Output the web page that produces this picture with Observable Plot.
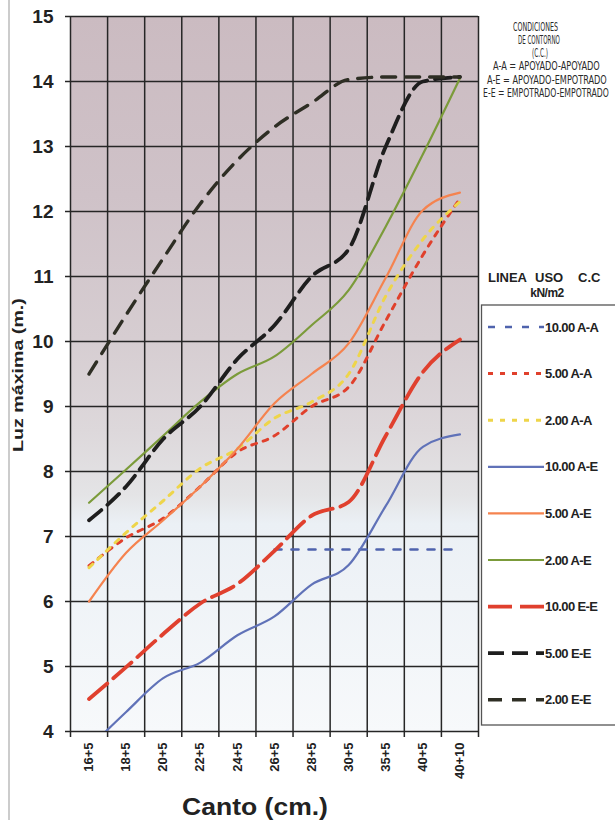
<!DOCTYPE html>
<html><head><meta charset="utf-8">
<script src="https://cdn.jsdelivr.net/npm/d3@7"></script>
<script src="https://cdn.jsdelivr.net/npm/@observablehq/plot@0.6"></script>
<style>
body{margin:0;background:#fff;}
#chart{position:relative;width:615px;height:820px;overflow:hidden;}
</style>
</head><body><div id="chart"></div>
<script>
// Categories (canto, cm)
const cantos = ["16+5","18+5","20+5","22+5","24+5","26+5","28+5","30+5","35+5","40+5","40+10"];
const yTicks = [4,5,6,7,8,9,10,11,12,13,14,15];

// Luz máxima (m.) per canto
const uso10AA = [null,null,null,null,null,6.8,6.8,6.8,6.8,6.8,6.8];
const uso5AA  = [6.55,6.98,7.28,7.77,8.3,8.55,9.0,9.3,10.32,11.33,12.2];
const uso2AA  = [6.52,7.06,7.55,8.05,8.35,8.82,9.07,9.5,10.7,11.57,12.15];
const uso10AE = [3.75,4.3,4.82,5.06,5.48,5.77,6.26,6.56,7.47,8.38,8.57];
const uso5AE  = [6.0,6.75,7.25,7.77,8.35,9.05,9.5,9.97,10.98,12.02,12.29];
const uso2AE  = [7.52,8.03,8.55,9.07,9.5,9.77,10.25,10.79,11.77,12.88,14.05];
const uso10EE = [4.5,4.99,5.5,5.97,6.27,6.78,7.32,7.53,8.55,9.53,10.03];
const uso5EE  = [7.25,7.77,8.5,9.0,9.73,10.25,11.0,11.42,13.0,14.0,14.07];
const uso2EE  = [9.5,10.41,11.28,12.12,12.79,13.3,13.67,14.03,14.07,14.07,14.07];

const seriesNames = ["10.00 A-A","5.00 A-A","2.00 A-A","10.00 A-E","5.00 A-E","2.00 A-E","10.00 E-E","5.00 E-E","2.00 E-E"];
const seriesValues = [uso10AA,uso5AA,uso2AA,uso10AE,uso5AE,uso2AE,uso10EE,uso5EE,uso2EE];

const styles = {
  "10.00 A-A": {color:"#4f63ad", dash:"7,10", width:2.6},
  "5.00 A-A":  {color:"#e0402c", dash:"5,7", width:3},
  "2.00 A-A":  {color:"#eed54a", dash:"5,7", width:3},
  "10.00 A-E": {color:"#6072b8", dash:null, width:2.2},
  "5.00 A-E":  {color:"#f5834f", dash:null, width:2.2},
  "2.00 A-E":  {color:"#7b9b3a", dash:null, width:2.2},
  "10.00 E-E": {color:"#e0402e", dash:"24,8", width:3.8},
  "5.00 E-E":  {color:"#1e1e1e", dash:"16,8", width:3.8},
  "2.00 E-E":  {color:"#2e2e24", dash:"14,10", width:3.4}
};

const rows = seriesNames.flatMap((name, si) =>
  seriesValues[si].map((v, i) => ({serie:name, x:i, y:v})).filter(d => d.y != null));

const W = 615, H = 820;
const plot = Plot.plot({
  width: W, height: H,
  marginLeft: 70, marginRight: 137, marginTop: 16, marginBottom: 89,
  style: {background:"transparent", fontFamily:"'Liberation Sans', Arial, sans-serif"},
  x: {domain:[-0.5,10.5]},
  y: {domain:[4,15]},
  marks: [
    Plot.frame({fill:"#ddd", stroke:null}),
    Plot.ruleY(yTicks, {stroke:"#262626", strokeWidth:1.5, insetLeft:-5}),
    Plot.ruleX(d3.range(-0.5, 11, 1), {stroke:"#262626", strokeWidth:1.5, insetBottom:-6}),
    ...seriesNames.map(name => Plot.line(rows.filter(r => r.serie === name), {
      x:"x", y:"y", stroke: styles[name].color, strokeWidth: styles[name].width,
      strokeDasharray: styles[name].dash || undefined, curve:"monotone-x", clip:true
    })),
    Plot.axisY({ticks: yTicks, tickSize:0, tickPadding:17, fontSize:19, fontWeight:"bold", label:null, fill:"#222"}),
    Plot.axisX({ticks: d3.range(11), tickFormat: i => cantos[i], tickRotate:-90, tickSize:0, tickPadding:11, fontSize:13, fontWeight:"bold", label:null, fill:"#222"})
  ]
});

document.getElementById("chart").appendChild(plot);

const svg = d3.select(plot);
svg.style("position","absolute").style("left","0").style("top","0");
const defs = svg.insert("defs", ":first-child");
const grad = defs.append("linearGradient").attr("id","bgGrad").attr("x1",0).attr("y1",0).attr("x2",0).attr("y2",1);
[[0,"#cbbbc1"],[0.25,"#cfc2c8"],[0.45,"#d6cdd1"],[0.58,"#ddd8db"],[0.67,"#e4e4e6"],[0.71,"#ebf0f5"],[1,"#f7f9fb"]]
  .forEach(([o,c]) => grad.append("stop").attr("offset",o).attr("stop-color",c));
const frameNode = svg.select('[aria-label="frame"]');
frameNode.attr("fill","url(#bgGrad)");
frameNode.selectAll("rect").attr("fill","url(#bgGrad)");

// Page scan border
svg.append("line").attr("x1",9).attr("x2",9).attr("y1",0).attr("y2",H).attr("stroke","#bbb").attr("stroke-width",1.5);

// Text fitted to a measured width by a horizontal scale
function fitText(parent, str, x, y, len, opts) {
  const t = parent.append("text").attr("text-anchor","start")
    .attr("font-family",opts.family).attr("font-size",opts.size)
    .attr("font-weight",opts.weight || "normal").attr("fill",opts.fill || "#222").text(str);
  const natural = t.node().getComputedTextLength() || len;
  const sx = len / natural;
  t.attr("transform", `translate(${x},${y}) rotate(${opts.rotate || 0}) scale(${sx},1)`);
  return t;
}

// Axis titles
const baseFont = "'Liberation Sans', Arial, sans-serif";
fitText(svg, "Luz máxima (m.)", 23, 452, 154, {family:baseFont, size:14, weight:"bold", rotate:-90});
fitText(svg, "Canto (cm.)", 182, 815, 146, {family:baseFont, size:23, weight:"bold"});

// Boundary conditions note
const noteFont = "'Liberation Sans Narrow', 'DejaVu Sans Condensed', sans-serif";
const noteLines = [
  ["CONDICIONES",513,31,45],["DE CONTORNO",518,44,42],["(C.C.)",532,57,16],
  ["A-A = APOYADO-APOYADO",493,70,107],["A-E = APOYADO-EMPOTRADO",487,84,120],["E-E = EMPOTRADO-EMPOTRADO",483,97,126]
];
noteLines.forEach(([t,x,y,len]) => fitText(svg, t, x, y, len, {family:noteFont, size:12, fill:"#2a2a2a"}));

// Legend
const lg = svg.append("g").attr("font-family",baseFont).attr("font-weight","bold")
  .attr("fill","#222").attr("text-anchor","start");
lg.append("text").attr("x",488).attr("y",282).attr("font-size",13).text("LINEA");
lg.append("text").attr("x",535).attr("y",282).attr("font-size",13).text("USO");
lg.append("text").attr("x",578).attr("y",282).attr("font-size",13).text("C.C");
lg.append("text").attr("x",547).attr("y",297).attr("font-size",12).attr("text-anchor","middle").attr("letter-spacing","-0.5").text("kN/m2");
lg.append("rect").attr("x",481.5).attr("y",305).attr("width",150).attr("height",420).attr("fill","#fff").attr("stroke","#555").attr("stroke-width",1.3);
seriesNames.forEach((name, k) => {
  const y = 327 + k*46.6;
  const s = styles[name];
  const ln = lg.append("line").attr("x1",488).attr("x2",544).attr("y1",y).attr("y2",y)
    .attr("stroke",s.color).attr("stroke-width",s.width);
  if (s.dash) ln.attr("stroke-dasharray",s.dash);
  lg.append("text").attr("x",545).attr("y",y+4.5).attr("font-size",13).attr("letter-spacing","-0.6").attr("text-anchor","start").text(name);
});
</script>
</body></html>
